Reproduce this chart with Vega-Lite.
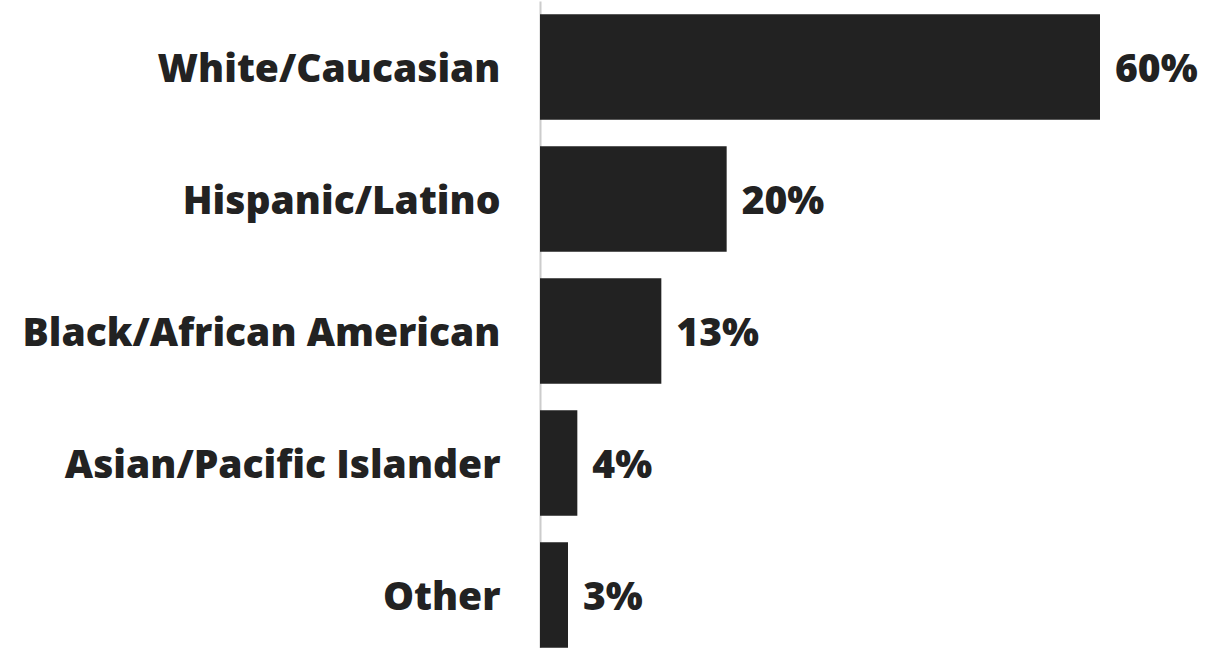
{
  "$schema": "https://vega.github.io/schema/vega-lite/v6.json",
  "width": 560,
  "height": 660,
  "autosize": {"type": "none"},
  "padding": {"left": 540, "top": 1, "right": 128, "bottom": 0},
  "background": "white",
  "config": {"view": {"stroke": null}},
  "data": {"values": [
    {"category": "White/Caucasian", "value": 0.60},
    {"category": "Hispanic/Latino", "value": 0.20},
    {"category": "Black/African American", "value": 0.13},
    {"category": "Asian/Pacific Islander", "value": 0.04},
    {"category": "Other", "value": 0.03}
  ]},
  "encoding": {
    "y": {"field": "category", "type": "nominal", "sort": null,
      "scale": {"paddingInner": 0.2, "paddingOuter": 0.1},
      "axis": {"title": null, "ticks": false, "domain": true, "domainColor": "#cccccc", "domainWidth": 2,
        "labelFont": "Open Sans", "labelFontWeight": 800, "labelFontSize": 39, "labelColor": "#222222",
        "labelPadding": 40, "labelLimit": 0, "labelOffset": 3}},
    "x": {"field": "value", "type": "quantitative", "scale": {"domain": [0, 0.6]}, "axis": null}
  },
  "layer": [
    {"mark": {"type": "bar", "color": "#222222"}},
    {"mark": {"type": "text", "align": "left", "dx": 15, "dy": 3, "font": "Open Sans", "fontWeight": 800, "fontSize": 39, "color": "#222222"},
     "encoding": {"text": {"field": "value", "type": "quantitative", "format": ".0%"}}}
  ]
}
